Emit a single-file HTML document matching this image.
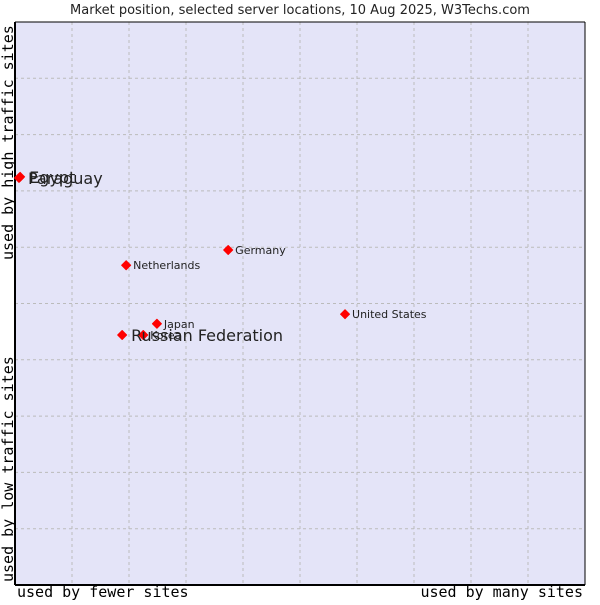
<!DOCTYPE html>
<html><head><meta charset="utf-8"><style>
body{margin:0;background:#fff;width:600px;height:600px;overflow:hidden}
svg text{font-family:"DejaVu Sans","Liberation Sans",sans-serif}
.mono{font-family:"DejaVu Sans Mono","Liberation Mono",monospace}
</style></head><body>
<svg id="c" width="600" height="600">
<text x="300" y="14" text-anchor="middle" font-size="13" fill="#222">Market position, selected server locations, 10 Aug 2025, W3Techs.com</text>
<rect x="15" y="22" width="570" height="563" fill="#e4e4f8"/>
<g id="grid"></g>
<line x1="15" y1="22" x2="585" y2="22" stroke="#000"/>
<line x1="15" y1="22" x2="15" y2="585" stroke="#000" stroke-width="2"/>
<line x1="15" y1="585" x2="585" y2="585" stroke="#000" stroke-width="2"/>
<line x1="585" y1="22" x2="585" y2="585" stroke="#000"/>
<g id="pts"></g>
<text class="mono" x="17" y="597" font-size="15" fill="#000">used by fewer sites</text>
<text class="mono" x="583" y="597" font-size="15" text-anchor="end" fill="#000">used by many sites</text>
<text class="mono" transform="translate(13,260) rotate(-90)" font-size="15" fill="#000">used by high traffic sites</text>
<text class="mono" transform="translate(13,582) rotate(-90)" font-size="15" fill="#000">used by low traffic sites</text>
</svg>
<script>
const names=["Egypt","Paraguay","Netherlands","Germany","United States","Japan","Korea","Russian Federation"];
const xs=[0.9,0.7,19.5,37.4,57.9,24.9,22.5,18.8];
const ys=[72.5,72.3,56.8,59.5,48.1,46.4,44.4,44.4];
const big=[true,true,false,false,false,false,false,true];
const X=v=>15+v/100*570, Y=v=>585-v/100*563;
const NS="http://www.w3.org/2000/svg";
const g=document.getElementById('grid');
for(let i=1;i<10;i++){
 let l=document.createElementNS(NS,'line');
 
 
 const x=X(i*10);l.setAttribute('x1',x);l.setAttribute('x2',x);l.setAttribute('y1',22);l.setAttribute('y2',585);
 l.setAttribute('stroke','#bbb');l.setAttribute('stroke-dasharray','3,3');g.appendChild(l);
 let h=document.createElementNS(NS,'line');
 
 
 const y=Y(i*10);h.setAttribute('y1',y);h.setAttribute('y2',y);h.setAttribute('x1',15);h.setAttribute('x2',585);
 h.setAttribute('stroke','#bbb');h.setAttribute('stroke-dasharray','3,3');g.appendChild(h);
}
const p=document.getElementById('pts');
names.forEach((n,i)=>{
 const x=X(xs[i]),y=Y(ys[i]);
 let d=document.createElementNS(NS,'path');
 
 
 d.setAttribute('d',`M${x-4.5},${y}L${x},${y-4.5}L${x+4.5},${y}L${x},${y+4.5}Z`);
 d.setAttribute('fill','#f00');d.setAttribute('stroke','#f00');d.setAttribute('stroke-linejoin','round');p.appendChild(d);
 let t=document.createElementNS(NS,'text');
 
 
 t.setAttribute('x',x+(big[i]?9:7));t.setAttribute('y',y+(big[i]?6:4));
 t.setAttribute('font-size',big[i]?16:11);t.setAttribute('fill','#222');t.textContent=n;p.appendChild(t);
});
</script>
</body></html>
